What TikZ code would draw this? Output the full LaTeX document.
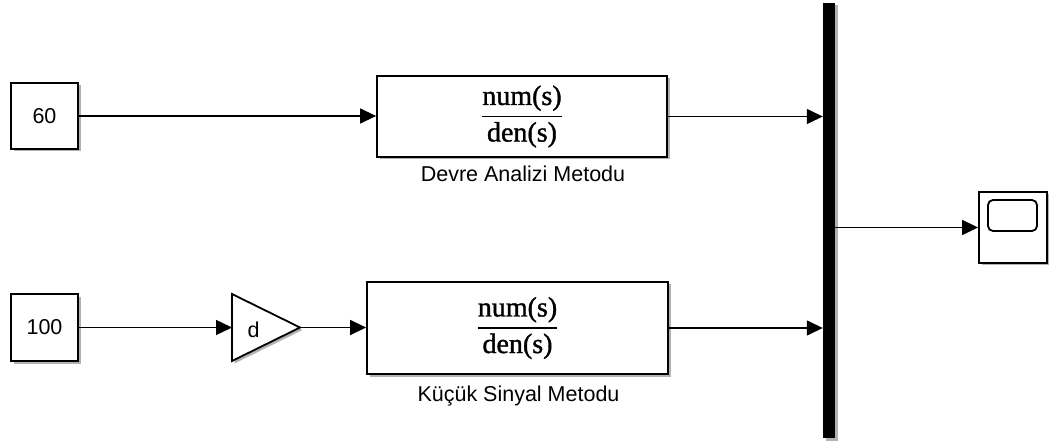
\documentclass[tikz,border=0pt]{standalone}
\usepackage{amsmath}
\usepackage{fontspec}
\setmainfont{Liberation Sans}
\newfontfamily\tffont[FakeBold=1.2]{Liberation Serif}
\usetikzlibrary{arrows.meta,shadows}

% transfer function text: num(s) over den(s)
\newcommand\tffrac{{\fontsize{28}{32}\selectfont
  $\genfrac{}{}{1.6pt}{0}{\mbox{\tffont num(s)}}{\mbox{\tffont den(s)}}$}}

\begin{document}
\begin{tikzpicture}[x=1pt,y=-1pt,
  shade/.style={drop shadow={shadow xshift=2.5pt,shadow yshift=-2.5pt,fill=black,opacity=0.3}},
  blk/.style={draw=black,line width=1.8pt,fill=white,inner sep=0pt,
    font=\fontsize{21.5}{24}\selectfont,shade},
  sig/.style={line width=1.4pt,-{Triangle[length=16pt,width=15pt]}},
  lbl/.style={font=\fontsize{21.5}{24}\selectfont,anchor=base,inner sep=0pt},
]
\useasboundingbox (0,0) rectangle (1049,446);

% sources
\node[blk,minimum width=67pt,minimum height=66pt] (c60) at (44.5,116) {60};
\node[blk,minimum width=67pt,minimum height=67pt] (c100) at (44.5,327.5) {100};

% transfer functions
\node[blk,minimum width=290pt,minimum height=81pt] (tf1) at (522,116.5) {\tffrac};
\node[blk,minimum width=301pt,minimum height=92pt] (tf2) at (517.5,328) {\tffrac};
\node[lbl] (lab1) at (523,182) {Devre Analizi Metodu};
\node[lbl] (lab2) at (518.5,401) {Küçük Sinyal Metodu};

% gain
\draw[line width=1.8pt,fill=white,shade,line join=miter]
  (232,294) -- (300,327.5) -- (232,361) -- cycle;
\coordinate (gin) at (232,327.5);
\coordinate (gout) at (300,327.5);
\node[font=\fontsize{21.5}{24}\selectfont,inner sep=0pt] (gaink) at (253.5,329.5) {d};

% mux bar
\node[fill=black,minimum width=12pt,minimum height=435pt,inner sep=0pt,shade] (bus) at (829,220.5) {};

% scope
\node[blk,minimum width=68pt,minimum height=71pt] (scope) at (1013,227.5) {};
\node[draw,line width=1.8pt,rounded corners=5pt,minimum width=49pt,minimum height=31pt,inner sep=0pt] (screen) at (1012.5,215.5) {};

% signals
\draw[sig] (c60.east) -- (c60.east -| tf1.west);
\draw[sig] (c100.east) -- (gin);
\draw[sig] (gout) -- (gout -| tf2.west);
\draw[sig] (tf1.east) -- (tf1.east -| bus.west);
\draw[sig] (tf2.east) -- (tf2.east -| bus.west);
\draw[sig] (bus.east |- scope.west) -- (scope.west);
\end{tikzpicture}
\end{document}
